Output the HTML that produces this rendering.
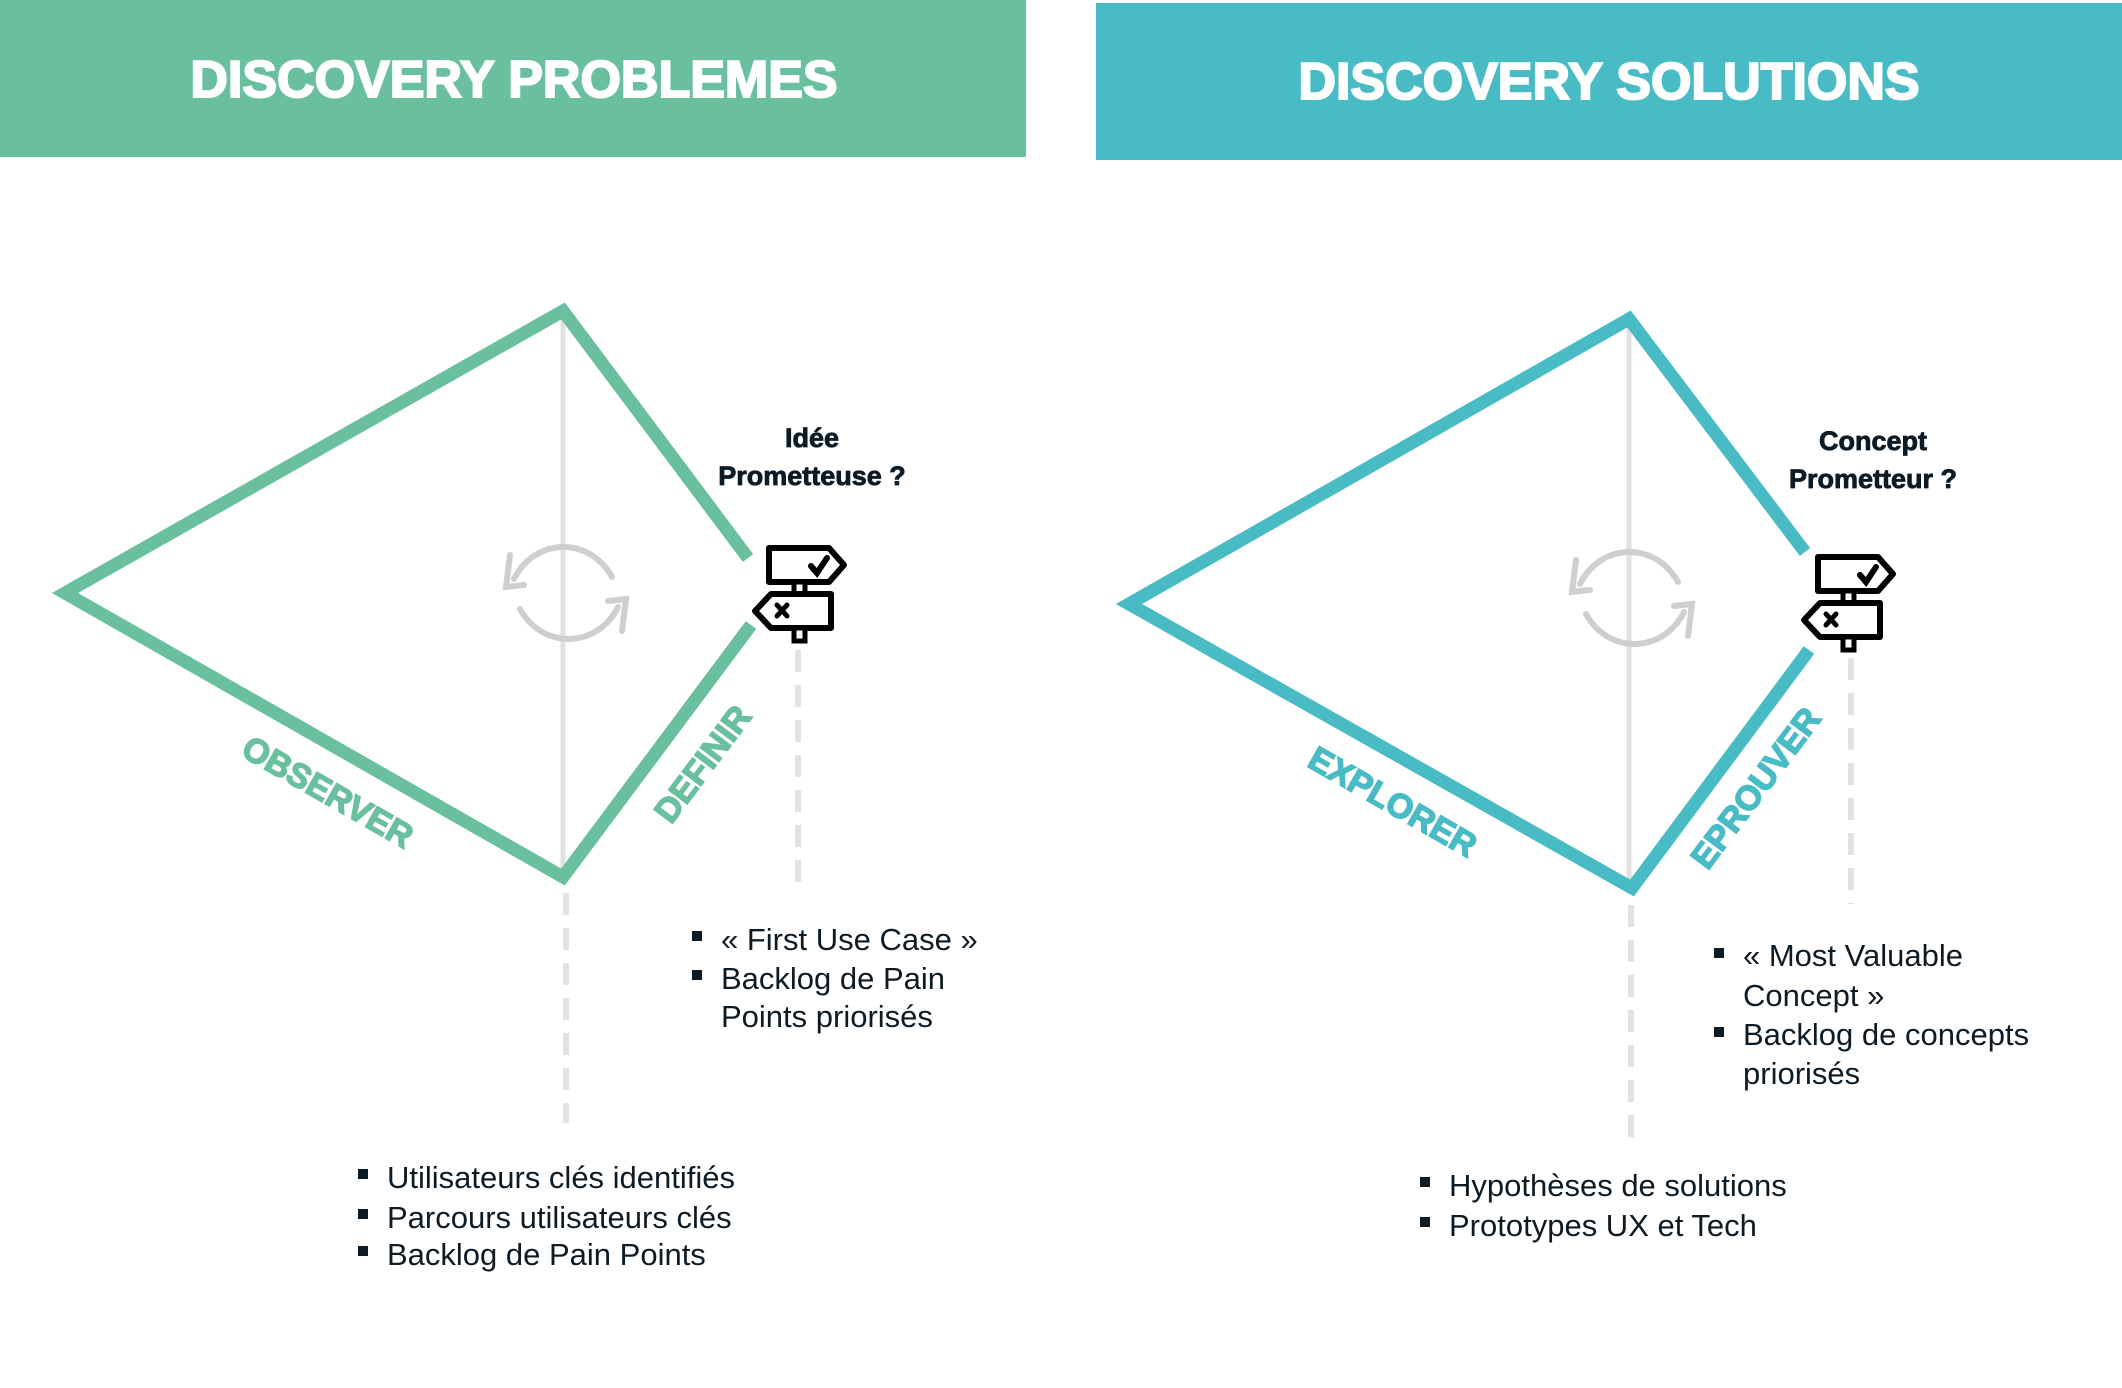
<!DOCTYPE html>
<html><head><meta charset="utf-8"><style>
html,body{margin:0;padding:0;background:#fff;}
svg{display:block;}
text{font-family:"Liberation Sans",sans-serif;}
</style></head><body>
<svg width="2122" height="1388" viewBox="0 0 2122 1388" xmlns="http://www.w3.org/2000/svg">
<defs>
<g id="sign">
  <path d="M18 5 H78 L93 22 L78 39 H18 Z" fill="#fff" stroke="#000" stroke-width="6" stroke-linejoin="round"/>
  <path d="M60 23 L66 30 L76 15" fill="none" stroke="#000" stroke-width="6" stroke-linecap="round"/>
  <rect x="43" y="39" width="11" height="12" fill="#fff" stroke="#000" stroke-width="5"/>
  <path d="M80 51 H20 L4 68 L20 85 H80 Z" fill="#fff" stroke="#000" stroke-width="6" stroke-linejoin="round"/>
  <path d="M26 62 L36 73 M36 62 L26 73" stroke="#000" stroke-width="5" stroke-linecap="round"/>
  <rect x="43" y="85" width="11" height="13" fill="#fff" stroke="#000" stroke-width="5"/>
</g>
<g id="cycle" fill="none" stroke="#cfcfcf" stroke-width="6" stroke-linecap="round">
  <path d="M-52 -14 A56 60 0 0 1 46 -16"/>
  <path d="M52 14 A56 60 0 0 1 -46 16"/>
  <path d="M-56 -38 L-60 -6 L-42 -8"/>
  <path d="M56 38 L60 6 L42 8"/>
</g>
</defs>
<rect x="0" y="0" width="1026" height="157" fill="#6abf9f"/>
<rect x="1096" y="3" width="1026" height="157" fill="#48bbc4"/>
<text x="514" y="97" font-size="52" font-weight="bold" fill="#fff" stroke="#fff" stroke-width="2" text-anchor="middle">DISCOVERY PROBLEMES</text>
<text x="1609" y="99" font-size="52" font-weight="bold" fill="#fff" stroke="#fff" stroke-width="2" text-anchor="middle">DISCOVERY SOLUTIONS</text>

<!-- left diagram -->
<line x1="563" y1="311" x2="563" y2="877" stroke="#e2e2e2" stroke-width="5"/>
<line x1="566" y1="893" x2="566" y2="1123" stroke="#e2e2e2" stroke-width="6" stroke-dasharray="22,13"/>
<line x1="798" y1="650" x2="798" y2="886" stroke="#e2e2e2" stroke-width="6" stroke-dasharray="22,13"/>
<polyline points="748,558 563,311 65,593 563,877 751,625" fill="none" stroke="#6abf9f" stroke-width="13" stroke-linejoin="miter"/>
<use href="#cycle" x="566" y="593"/>
<use href="#sign" x="751" y="543"/>
<g font-size="27" font-weight="bold" fill="#0d1b26" stroke="#0d1b26" stroke-width="0.8" text-anchor="middle">
<text x="812" y="447">Idée</text>
<text x="812" y="485">Prometteuse ?</text>
<text x="1873" y="450">Concept</text>
<text x="1873" y="488">Prometteur ?</text>
</g>
<text transform="translate(322,802) rotate(29.7)" font-size="34" font-weight="bold" fill="#6abf9f" stroke="#6abf9f" stroke-width="1.5" text-anchor="middle">OBSERVER</text>
<text transform="translate(712,771) rotate(-53)" font-size="34" font-weight="bold" fill="#6abf9f" stroke="#6abf9f" stroke-width="1.5" text-anchor="middle">DEFINIR</text>
<g font-size="31" fill="#0d1b26">
<rect x="692" y="931" width="10" height="10" fill="#0d1b26"/><text x="721" y="950">« First Use Case »</text>
<rect x="692" y="970" width="10" height="10" fill="#0d1b26"/><text x="721" y="989">Backlog de Pain</text>
<text x="721" y="1027">Points priorisés</text>
<rect x="358" y="1169" width="10" height="10" fill="#0d1b26"/><text x="387" y="1188">Utilisateurs clés identifiés</text>
<rect x="358" y="1209" width="10" height="10" fill="#0d1b26"/><text x="387" y="1228">Parcours utilisateurs clés</text>
<rect x="358" y="1246" width="10" height="10" fill="#0d1b26"/><text x="387" y="1265">Backlog de Pain Points</text>
</g>

<!-- right diagram -->
<line x1="1629" y1="319" x2="1629" y2="888" stroke="#e2e2e2" stroke-width="5"/>
<line x1="1631" y1="905" x2="1631" y2="1137" stroke="#e2e2e2" stroke-width="6" stroke-dasharray="22,13"/>
<line x1="1851" y1="658" x2="1851" y2="904" stroke="#e2e2e2" stroke-width="6" stroke-dasharray="22,13"/>
<polyline points="1805,552 1629,319 1129,604 1632,888 1809,650" fill="none" stroke="#48bbc4" stroke-width="13" stroke-linejoin="miter"/>
<use href="#cycle" x="1632" y="598"/>
<use href="#sign" x="1800" y="552"/>
<text transform="translate(1387,812) rotate(29.7)" font-size="34" font-weight="bold" fill="#48bbc4" stroke="#48bbc4" stroke-width="1.5" text-anchor="middle">EXPLORER</text>
<text transform="translate(1765,795) rotate(-53)" font-size="34" font-weight="bold" fill="#48bbc4" stroke="#48bbc4" stroke-width="1.5" text-anchor="middle">EPROUVER</text>
<g font-size="31" fill="#0d1b26">
<rect x="1714" y="948" width="10" height="10" fill="#0d1b26"/><text x="1743" y="966">« Most Valuable</text>
<text x="1743" y="1006">Concept »</text>
<rect x="1714" y="1027" width="10" height="10" fill="#0d1b26"/><text x="1743" y="1045">Backlog de concepts</text>
<text x="1743" y="1084">priorisés</text>
<rect x="1420" y="1177" width="10" height="10" fill="#0d1b26"/><text x="1449" y="1196">Hypothèses de solutions</text>
<rect x="1420" y="1217" width="10" height="10" fill="#0d1b26"/><text x="1449" y="1236">Prototypes UX et Tech</text>
</g>
</svg>
</body></html>
